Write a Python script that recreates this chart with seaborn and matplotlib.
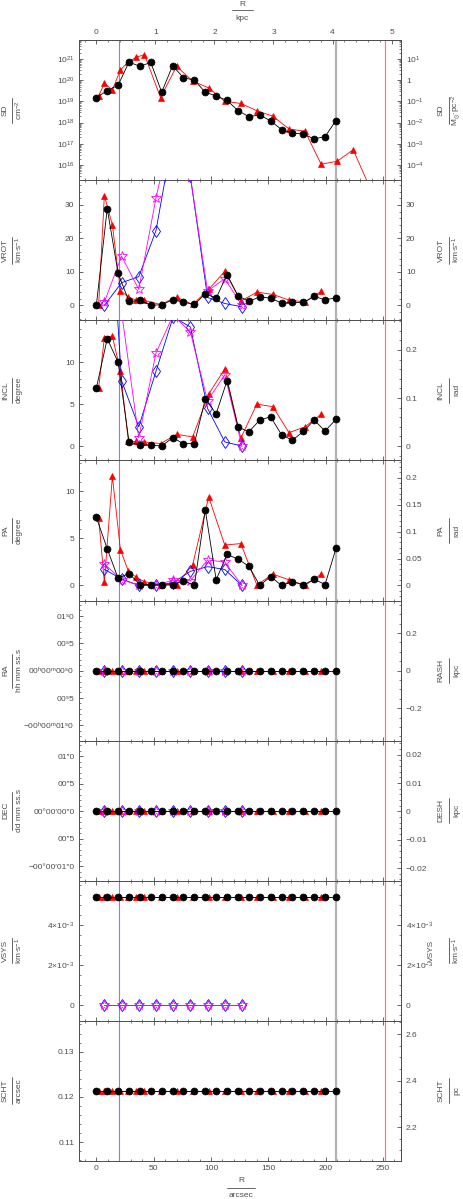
import matplotlib
matplotlib.use("Agg")
import matplotlib.pyplot as plt
import seaborn as sns
import numpy as np
from matplotlib.lines import Line2D
from matplotlib.ticker import AutoMinorLocator, MultipleLocator, LogLocator, NullFormatter

# radii (arcsec)
r_black = [0, 9.5, 19, 28.5, 38, 47.5, 57, 66.5, 76, 85.5, 95, 104.5, 114, 123.5,
           133, 142.5, 152, 161.5, 171, 180.5, 190, 199.5, 209]
r_red_sd = [2, 7, 14, 21, 28, 35, 42, 56, 70, 84, 98, 112, 126, 140, 154, 168,
            182, 196, 210, 224, 238]
r_red = r_red_sd[:18]
r_fit = [7, 22, 37, 52, 67, 82, 97, 112, 127]

# surface density (cm^-2)
sd_black = [1.5e19, 3.2e19, 5.8e19, 7e20, 4.5e20, 6.8e20, 2.7e19, 4.8e20, 1.3e20,
            1.0e20, 2.7e19, 1.8e19, 1.1e19, 3.7e18, 1.9e18, 2.3e18, 1.2e18, 4.7e17,
            3.2e17, 2.9e17, 1.7e17, 2.2e17, 1.25e18]
sd_red = [1.8e19, 7e19, 3.5e19, 3e20, 7.5e20, 1.2e21, 1.6e21, 1.5e19, 4.5e20, 9e19,
          4.3e19, 1e19, 8e18, 3.6e18, 2e18, 5e17, 3.9e17, 1.1e16, 1.5e16, 5.3e16, 1e15]

# rotation (km/s)
vrot_black = [0, 28.9, 9.6, 1.2, 1.5, 0.1, 0.2, 1.7, 1.0, 0.3, 3.5, 2.2, 9.2, 2.9,
              1.2, 2.6, 2.2, 0.7, 0.9, 0.9, 2.7, 1.7, 2.3]
vrot_red = [0, 32.8, 24, 4.4, 2.6, 1.5, 1.5, 0.3, 2.5, 0.3, 4.8, 10.2, 1.3, 4.0,
            3.3, 1.6, 1.1, 4.2]
vrot_blue = [0, 6.8, 8.6, 22.3, 51, 38.5, 2.4, 0.6, -0.4]
vrot_mag = [1.0, 14.7, 4.8, 32, 55, 38.5, 4.3, 8.0, 0]

# inclination (deg)
incl_black = [6.9, 12.8, 10.0, 0.5, 0.1, 0.15, 0, 1.0, 0.3, 0.3, 5.6, 3.85, 7.8,
              2.3, 1.7, 3.1, 3.5, 1.35, 0.7, 1.75, 3.1, 1.8, 3.2]
incl_red = [6.9, 12.9, 13.1, 8.9, 0.55, 0.55, 0.5, 0.3, 1.4, 1.1, 6.2, 9.2, 0.95,
            5.0, 4.7, 1.6, 2.3, 3.8]
incl_blue = [40, 7.8, 2.3, 8.9, 15.4, 14.2, 4.5, 0.5, 0]
incl_mag = [30, 16, 1.0, 11.1, 15.6, 13.6, 5.4, 8.5, 0]

# position angle (deg)
pa_black = [7.25, 3.9, 0.75, 1.27, 0.1, 0.1, 0.05, 0.05, 0.5, 0, 8.05, 0.6, 3.3,
            2.8, 2.05, 0, 0.95, 0, 0.4, 0.05, 0.65, 0.1, 3.95]
pa_red = [7.2, 0.35, 11.6, 3.8, 1.5, 0.85, 0.4, 0.1, 0.1, 2.2, 9.4, 4.3, 4.45,
          0.05, 1.2, 0.6, 0, 1.2]
pa_blue = [1.7, 0.7, 0, 0, 0.3, 1.5, 2.0, 1.7, 0]
pa_mag = [2.3, 0.6, 0.05, 0.05, 0.55, 0.5, 2.7, 2.5, 0]

# centre offsets, systemic velocity, scale height (constant)
zero_black = [0.0] * 23
zero_red = [0.0] * 18
zero_fit = [0.0] * 9
vsys_black = [5.43e-3] * 23
vsys_red = [5.43e-3] * 18
scht_black = [0.12127] * 23
scht_red = [0.12127] * 18

W, H = 463, 1199
TC = "0.3"
FS = 6

sns.set_style("ticks")
plt.rcParams["font.family"] = ["Liberation Sans", "DejaVu Sans"]
plt.rcParams["mathtext.default"] = "regular"

fig = plt.figure(figsize=(W / 100, H / 100), dpi=100)

styles = {
    "red": dict(color="red", marker="^", markersize=5, mec="red", mew=0.5, zorder=3),
    "blue": dict(color="blue", marker="d", markersize=6, mfc="none", mec="blue", mew=0.6, zorder=4),
    "mag": dict(color="magenta", marker="*", markersize=7.5, mfc="none", mec="magenta", mew=0.6, zorder=5),
    "black": dict(color="black", marker="o", markersize=5, mec="black", mew=0.5, zorder=6),
}


def draw(ax, r, v, kind):
    sns.lineplot(x=r, y=v, ax=ax, lw=0.6, sort=False, estimator=None, legend=False, **styles[kind])


def frac_v(xn, xb, xd, yc, num, den, blen):
    fig.text(xn / W, 1 - yc / H, num, rotation=90, ha="center", va="center", fontsize=FS, color=TC)
    fig.text(xd / W, 1 - yc / H, den, rotation=90, ha="center", va="center", fontsize=FS, color=TC)
    fig.add_artist(Line2D([xb / W, xb / W], [1 - (yc - blen / 2) / H, 1 - (yc + blen / 2) / H],
                          transform=fig.transFigure, color=TC, lw=0.6))


def frac_h(xc, yn, yb, yd, num, den, blen):
    fig.text(xc / W, 1 - yn / H, num, ha="center", va="center", fontsize=FS, color=TC)
    fig.text(xc / W, 1 - yd / H, den, ha="center", va="center", fontsize=FS, color=TC)
    fig.add_artist(Line2D([(xc - blen / 2) / W, (xc + blen / 2) / W], [1 - yb / H, 1 - yb / H],
                          transform=fig.transFigure, color=TC, lw=0.6))


def style_ticks(a, which_axis):
    a.tick_params(axis=which_axis, which="major", direction="in", length=3.2, width=0.6,
                  colors=TC, labelsize=FS, pad=3.5)
    a.tick_params(axis=which_axis, which="minor", direction="in", length=1.6, width=0.5, colors=TC)


x0, x1 = 79.3, 401.0
top0, step = 40.0, 140.125
axes = []
for i in range(8):
    top = top0 + step * i
    ax = fig.add_axes([x0 / W, 1 - (top + step) / H, (x1 - x0) / W, step / H])
    ax.set_xlim(-14.85, 265.7)
    for s in ax.spines.values():
        s.set_color(TC)
        s.set_linewidth(0.7)
    ax.xaxis.set_major_locator(MultipleLocator(50))
    ax.xaxis.set_minor_locator(MultipleLocator(10))
    style_ticks(ax, "both")
    ax.tick_params(axis="x", which="both", top=(i > 0), bottom=True, labelbottom=(i == 7))
    ax.tick_params(axis="y", which="both", left=True, right=False)
    ax.axvline(20, color="#8080ff", lw=0.8, zorder=1)
    ax.axvline(209, color="#b4b4b4", lw=1.6, zorder=1)
    ax.axvline(252, color="#f08080", lw=0.9, zorder=1)
    ax.set_xlabel("")
    axes.append(ax)

ax_sd, ax_vr, ax_in, ax_pa, ax_ra, ax_de, ax_vs, ax_sc = axes

# SD
ax_sd.set_yscale("log")
draw(ax_sd, r_red_sd, sd_red, "red")
draw(ax_sd, r_black, sd_black, "black")
ax_sd.set_ylim(10 ** 15.29, 10 ** 21.89)
ax_sd.set_yticks([10.0 ** k for k in range(16, 22)],
                 labels=[f"$10^{{{k}}}$" for k in range(16, 22)])
ax_sd.yaxis.set_minor_locator(LogLocator(base=10, subs=np.arange(2, 10), numticks=20))
ax_sd.yaxis.set_minor_formatter(NullFormatter())
sec = ax_sd.secondary_yaxis("right", functions=(lambda v: v / 1e20, lambda v: v * 1e20))
sec.set_yticks([1e-4, 1e-3, 1e-2, 1e-1, 1, 10],
               labels=["$10^{-4}$", "$10^{-3}$", "$10^{-2}$", "$10^{-1}$", "1", "$10^{1}$"])
sec.yaxis.set_minor_locator(LogLocator(base=10, subs=np.arange(2, 10), numticks=20))
sec.yaxis.set_minor_formatter(NullFormatter())
style_ticks(sec, "y")
kpc = ax_sd.secondary_xaxis("top", functions=(lambda r: r / 51.5, lambda k: k * 51.5))
kpc.set_xticks([0, 1, 2, 3, 4, 5])
kpc.xaxis.set_minor_locator(AutoMinorLocator(5))
style_ticks(kpc, "x")
kpc.tick_params(axis="x", pad=3)
for s in list(sec.spines.values()) + list(kpc.spines.values()):
    s.set_color(TC)
    s.set_linewidth(0.7)

# VROT
draw(ax_vr, r_red, vrot_red, "red")
draw(ax_vr, r_fit, vrot_blue, "blue")
draw(ax_vr, r_fit, vrot_mag, "mag")
draw(ax_vr, r_black, vrot_black, "black")
ax_vr.set_ylim(-4.4, 37.4)
ax_vr.set_yticks([0, 10, 20, 30], labels=["0", "10", "20", "30"])
ax_vr.yaxis.set_minor_locator(MultipleLocator(2))

# INCL
draw(ax_in, r_red, incl_red, "red")
draw(ax_in, r_fit, incl_blue, "blue")
draw(ax_in, r_fit, incl_mag, "mag")
draw(ax_in, r_black, incl_black, "black")
ax_in.set_ylim(-1.7, 15.0)
ax_in.set_yticks([0, 5, 10], labels=["0", "5", "10"])
ax_in.yaxis.set_minor_locator(MultipleLocator(1))

# PA
draw(ax_pa, r_red, pa_red, "red")
draw(ax_pa, r_fit, pa_blue, "blue")
draw(ax_pa, r_fit, pa_mag, "mag")
draw(ax_pa, r_black, pa_black, "black")
ax_pa.set_ylim(-1.6, 13.3)
ax_pa.set_yticks([0, 5, 10], labels=["0", "5", "10"])
ax_pa.yaxis.set_minor_locator(MultipleLocator(1))

# RA
draw(ax_ra, r_red, zero_red, "red")
draw(ax_ra, r_fit, zero_fit, "blue")
draw(ax_ra, r_fit, zero_fit, "mag")
draw(ax_ra, r_black, zero_black, "black")
ax_ra.set_ylim(-1.28, 1.28)
ax_ra.set_yticks([-1, -0.5, 0, 0.5, 1],
                 labels=["\u221200$^{h}$00$^{m}$01$^{s}$0", "00$^{s}$5",
                         "00$^{h}$00$^{m}$00$^{s}$0", "00$^{s}$5", "01$^{s}$0"])
ax_ra.yaxis.set_minor_locator(MultipleLocator(0.1))

# DEC
draw(ax_de, r_red, zero_red, "red")
draw(ax_de, r_fit, zero_fit, "blue")
draw(ax_de, r_fit, zero_fit, "mag")
draw(ax_de, r_black, zero_black, "black")
ax_de.set_ylim(-1.26, 1.285)
ax_de.set_yticks([-1, -0.5, 0, 0.5, 1],
                 labels=["\u221200\u00b000\u203201\u20330", "00\u20335",
                         "00\u00b000\u203200\u20330", "00\u20335", "01\u20330"])
ax_de.yaxis.set_minor_locator(MultipleLocator(0.1))

# VSYS
draw(ax_vs, r_red, vsys_red, "red")
draw(ax_vs, r_fit, zero_fit, "blue")
draw(ax_vs, r_fit, zero_fit, "mag")
draw(ax_vs, r_black, vsys_black, "black")
ax_vs.set_ylim(-0.78e-3, 6.22e-3)
vs_labels = ["0", r"2$\times$10$^{-3}$", r"4$\times$10$^{-3}$"]
ax_vs.set_yticks([0, 2e-3, 4e-3], labels=vs_labels)
ax_vs.yaxis.set_minor_locator(MultipleLocator(0.5e-3))

# SCHT
draw(ax_sc, r_red, scht_red, "red")
draw(ax_sc, r_black, scht_black, "black")
ax_sc.set_ylim(0.1058, 0.1368)
ax_sc.set_yticks([0.11, 0.12, 0.13], labels=["0.11", "0.12", "0.13"])
ax_sc.yaxis.set_minor_locator(MultipleLocator(0.002))
ax_sc.set_xticks([0, 50, 100, 150, 200, 250], labels=["0", "50", "100", "150", "200", "250"])
ax_sc.tick_params(axis="x", pad=3)

# right-hand axes
deg2rad = np.pi / 180
right_specs = [
    (ax_vr, (lambda v: v, lambda v: v), [0, 10, 20, 30], ["0", "10", "20", "30"], 2),
    (ax_in, (lambda v: v * deg2rad, lambda v: v / deg2rad), [0, 0.1, 0.2], ["0", "0.1", "0.2"], 0.02),
    (ax_pa, (lambda v: v * deg2rad, lambda v: v / deg2rad), [0, 0.05, 0.1, 0.15, 0.2],
     ["0", "0.05", "0.1", "0.15", "0.2"], 0.01),
    (ax_ra, (lambda v: v * 0.2915, lambda v: v / 0.2915), [-0.2, 0, 0.2], ["\u22120.2", "0", "0.2"], 0.05),
    (ax_de, (lambda v: v / 51.5, lambda v: v * 51.5), [-0.02, -0.01, 0, 0.01, 0.02],
     ["\u22120.02", "\u22120.01", "0", "0.01", "0.02"], 0.002),
    (ax_vs, (lambda v: v, lambda v: v), [0, 2e-3, 4e-3], vs_labels, 0.5e-3),
    (ax_sc, (lambda v: v * 19.42, lambda v: v / 19.42), [2.2, 2.4, 2.6], ["2.2", "2.4", "2.6"], 0.05),
]
for a, funcs, ticks, labels, minor in right_specs:
    s2 = a.secondary_yaxis("right", functions=funcs)
    s2.set_yticks(ticks, labels=labels)
    s2.yaxis.set_minor_locator(MultipleLocator(minor))
    style_ticks(s2, "y")
    for sp in s2.spines.values():
        sp.set_color(TC)
        sp.set_linewidth(0.7)

# axis titles (fraction style)
left_titles = [
    ("SD", "cm$^{-2}$", 25), ("VROT", r"km$\cdot$s$^{-1}$", 27), ("INCL", "degree", 25),
    ("PA", "degree", 25), ("RA", "hh mm ss.s", 34), ("DEC", "dd mm ss.s", 38),
    ("VSYS", r"km$\cdot$s$^{-1}$", 25), ("SCHT", "arcsec", 27),
]
right_titles = [
    ("SD", r"M$_{\odot}$$\cdot$pc$^{-2}$", 27), ("VROT", r"km$\cdot$s$^{-1}$", 27), ("INCL", "rad", 25),
    ("PA", "rad", 25), ("RASH", "kpc", 25), ("DESH", "kpc", 25),
    ("VSYS", r"km$\cdot$s$^{-1}$", 25), ("SCHT", "pc", 25),
]
for i in range(8):
    yc = top0 + step * (i + 0.5)
    num, den, bl = left_titles[i]
    frac_v(5.5, 11.5, 19.5, yc, num, den, bl)
    num, den, bl = right_titles[i]
    xn = 431 if num == "VSYS" else 441
    frac_v(xn, 448.5, 456.5, yc, num, den, bl)

frac_h(242.5, 4, 10, 18, "R", "kpc", 22)
frac_h(241, 1180, 1188, 1195.5, "R", "arcsec", 28)

fig.savefig("out.png", dpi=100)
